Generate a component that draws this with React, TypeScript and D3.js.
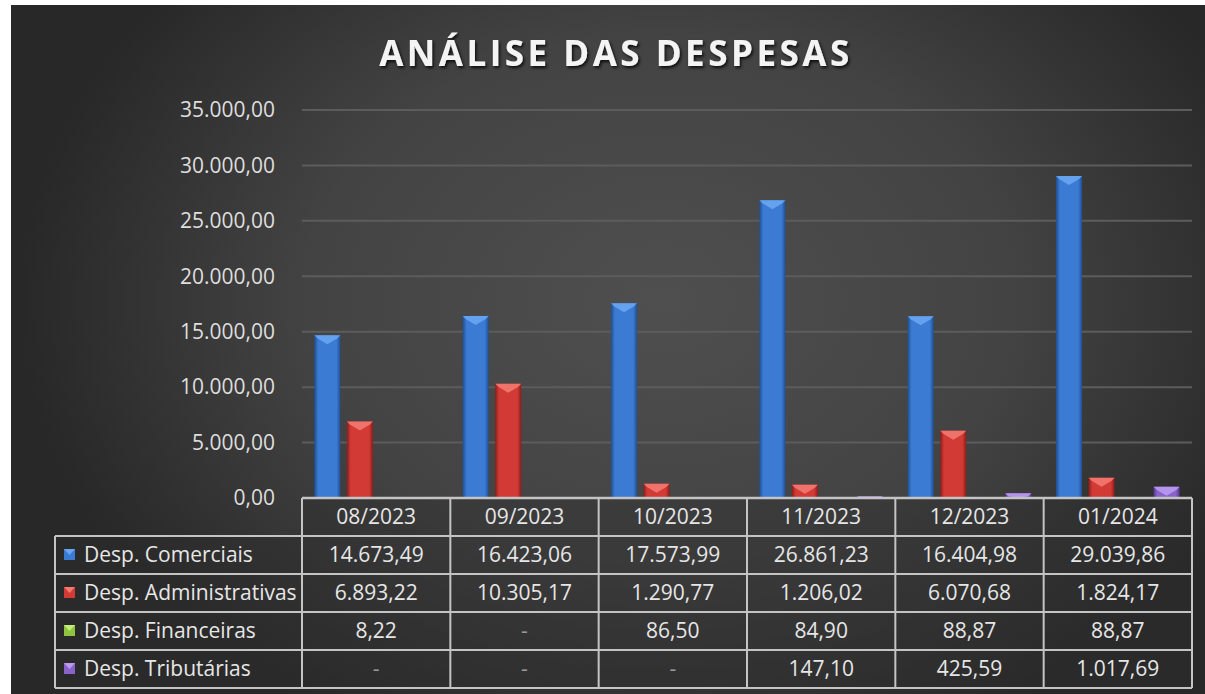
import { useEffect, useRef } from "react";
import * as d3 from "d3";

const W = 1205,
  H = 694;
const plot = { left: 302, right: 1192, top: 110, bottom: 498 };
const rowH = 38;
const legendLeft = 55;

const months = ["08/2023", "09/2023", "10/2023", "11/2023", "12/2023", "01/2024"];
const seriesNames = [
  "Desp. Comerciais",
  "Desp. Administrativas",
  "Desp. Financeiras",
  "Desp. Tributárias",
];
const comerciais = [14673.49, 16423.06, 17573.99, 26861.23, 16404.98, 29039.86];
const administrativas = [6893.22, 10305.17, 1290.77, 1206.02, 6070.68, 1824.17];
const financeiras = [8.22, null, 86.5, 84.9, 88.87, 88.87];
const tributarias = [null, null, null, 147.1, 425.59, 1017.69];
const yTicks = [0, 5000, 10000, 15000, 20000, 25000, 30000, 35000];

const seriesValues: (number | null)[][] = [comerciais, administrativas, financeiras, tributarias];
// [dark edge, mid, highlight]
const palette = [
  ["#1f4f92", "#3b7bd4", "#6aa6f0"],
  ["#8c1c1a", "#d23b35", "#f27a70"],
  ["#5b8a1e", "#8fc43f", "#c3ec7a"],
  ["#55378f", "#8a63c8", "#b99af0"],
];

const ptBR = d3.formatLocale({
  decimal: ",",
  thousands: ".",
  grouping: [3],
  currency: ["R$", ""],
});
const fmt = ptBR.format(",.2f");

function App() {
  const svgRef = useRef(null);

  const buildSVG = () => {
    const svg = d3.select(svgRef.current);
    svg.selectAll("*").remove();

    const defs = svg.append("defs");
    const bg = defs
      .append("radialGradient")
      .attr("id", "bg")
      .attr("gradientUnits", "userSpaceOnUse")
      .attr("cx", 660)
      .attr("cy", 300)
      .attr("r", 640)
      .attr("gradientTransform", "translate(660,300) scale(1,0.75) translate(-660,-300)");
    bg.append("stop").attr("offset", "0").attr("stop-color", "#4f4f4f");
    bg.append("stop").attr("offset", "0.55").attr("stop-color", "#434343");
    bg.append("stop").attr("offset", "1").attr("stop-color", "#282828");

    palette.forEach((c, i) => {
      const g = defs.append("linearGradient").attr("id", "bar" + i).attr("x1", 0).attr("x2", 1).attr("y1", 0).attr("y2", 0);
      g.append("stop").attr("offset", "0").attr("stop-color", c[0]);
      g.append("stop").attr("offset", "0.15").attr("stop-color", c[1]);
      g.append("stop").attr("offset", "0.5").attr("stop-color", c[1]);
      g.append("stop").attr("offset", "0.85").attr("stop-color", c[1]);
      g.append("stop").attr("offset", "1").attr("stop-color", c[0]);
    });

    const shadow = defs.append("filter").attr("id", "tshadow").attr("x", "-10%").attr("y", "-30%").attr("width", "120%").attr("height", "160%");
    shadow
      .append("feDropShadow")
      .attr("dx", 1.5)
      .attr("dy", 2)
      .attr("stdDeviation", 1.5)
      .attr("flood-color", "#000")
      .attr("flood-opacity", 0.8);

    svg.append("rect").attr("width", W).attr("height", H).attr("fill", "#ffffff");
    svg.append("rect").attr("x", 11).attr("y", 5).attr("width", W - 11).attr("height", H - 5).attr("fill", "url(#bg)");

    svg
      .append("text")
      .attr("x", 616)
      .attr("y", 66)
      .attr("text-anchor", "middle")
      .attr("font-family", "'Open Sans', sans-serif")
      .attr("font-weight", 700)
      .attr("font-size", 35)
      .attr("letter-spacing", 3.5)
      .attr("fill", "#f4f4f4")
      .attr("filter", "url(#tshadow)")
      .text("ANÁLISE DAS DESPESAS");

    const x = d3.scaleBand<string>().domain(months).range([plot.left, plot.right]);
    const xs = d3
      .scaleBand<number>()
      .domain(d3.range(seriesNames.length))
      .range([0, x.bandwidth()])
      .paddingInner(0.2)
      .paddingOuter(0.38);
    const y = d3.scaleLinear().domain([0, 35000]).range([plot.bottom, plot.top]);

    // grid
    svg
      .append("g")
      .selectAll("line")
      .data(yTicks.filter((t) => t > 0))
      .enter()
      .append("line")
      .attr("x1", plot.left)
      .attr("x2", plot.right)
      .attr("y1", (d) => y(d))
      .attr("y2", (d) => y(d))
      .attr("stroke", "#5c5c5c")
      .attr("stroke-width", 2);

    svg
      .append("g")
      .selectAll("text")
      .data(yTicks)
      .enter()
      .append("text")
      .attr("x", 275)
      .attr("y", (d) => y(d))
      .attr("dy", "0.35em")
      .attr("text-anchor", "end")
      .attr("font-family", "'Open Sans', sans-serif")
      .attr("font-size", 21)
      .attr("fill", "#dedede")
      .text((d) => fmt(d));

    // bars
    const bars = svg.append("g");
    seriesValues.forEach((vals, si) => {
      vals.forEach((v, mi) => {
        if (v == null) return;
        const bx = (x(months[mi]) as number) + (xs(si) as number);
        const bw = xs.bandwidth();
        const top = y(v);
        const h = plot.bottom - top;
        bars
          .append("rect")
          .attr("x", bx)
          .attr("y", top)
          .attr("width", bw)
          .attr("height", h)
          .attr("fill", `url(#bar${si})`);
        const bev = Math.min(9, h);
        bars
          .append("polygon")
          .attr(
            "points",
            [
              [bx, top],
              [bx + bw, top],
              [bx + bw - 3, top + Math.min(3, bev)],
              [bx + bw / 2, top + bev],
              [bx + 3, top + Math.min(3, bev)],
            ]
              .map((p) => p.join(","))
              .join(" ")
          )
          .attr("fill", palette[si][2])
          .attr("opacity", 0.9);
      });
    });

    // data table
    const tbl = svg.append("g");
    const line = "#c4c4c4";
    const font = "'Open Sans', sans-serif";
    const tableBottom = plot.bottom + rowH * (seriesNames.length + 1);

    tbl
      .append("rect")
      .attr("x", legendLeft)
      .attr("y", plot.bottom + rowH)
      .attr("width", plot.left - legendLeft)
      .attr("height", rowH * seriesNames.length)
      .attr("fill", "#2c2c2c")
      .attr("fill-opacity", 0.4);
    tbl
      .append("rect")
      .attr("x", plot.left)
      .attr("y", plot.bottom)
      .attr("width", plot.right - plot.left)
      .attr("height", rowH * (seriesNames.length + 1))
      .attr("fill", "#2c2c2c")
      .attr("fill-opacity", 0.4);

    // horizontal lines
    tbl
      .append("line")
      .attr("x1", plot.left)
      .attr("x2", plot.right)
      .attr("y1", plot.bottom)
      .attr("y2", plot.bottom)
      .attr("stroke", line)
      .attr("stroke-width", 2.5);
    d3.range(1, seriesNames.length + 2).forEach((r) => {
      tbl
        .append("line")
        .attr("x1", legendLeft)
        .attr("x2", plot.right)
        .attr("y1", plot.bottom + r * rowH)
        .attr("y2", plot.bottom + r * rowH)
        .attr("stroke", line)
        .attr("stroke-width", 2);
    });
    // vertical lines
    tbl
      .append("line")
      .attr("x1", legendLeft)
      .attr("x2", legendLeft)
      .attr("y1", plot.bottom + rowH)
      .attr("y2", tableBottom)
      .attr("stroke", line)
      .attr("stroke-width", 2);
    months.concat([""]).forEach((m, i) => {
      const xx = i < months.length ? (x(m) as number) : plot.right;
      tbl
        .append("line")
        .attr("x1", xx)
        .attr("x2", xx)
        .attr("y1", plot.bottom)
        .attr("y2", tableBottom)
        .attr("stroke", line)
        .attr("stroke-width", 2);
    });

    // header
    tbl
      .selectAll("text.hdr")
      .data(months)
      .enter()
      .append("text")
      .attr("class", "hdr")
      .attr("x", (d) => (x(d) as number) + x.bandwidth() / 2)
      .attr("y", plot.bottom + rowH / 2)
      .attr("dy", "0.35em")
      .attr("text-anchor", "middle")
      .attr("font-family", font)
      .attr("font-size", 21)
      .attr("fill", "#e6e6e6")
      .text((d) => d);

    seriesNames.forEach((name, si) => {
      const cy = plot.bottom + rowH * (si + 1) + rowH / 2;
      tbl
        .append("rect")
        .attr("x", 64)
        .attr("y", cy - 6)
        .attr("width", 11)
        .attr("height", 11)
        .attr("fill", palette[si][1]);
      tbl
        .append("polygon")
        .attr("points", `64,${cy - 6} 75,${cy - 6} 69.5,${cy}`)
        .attr("fill", palette[si][2]);
      tbl
        .append("text")
        .attr("x", 84)
        .attr("y", cy)
        .attr("dy", "0.35em")
        .attr("font-family", font)
        .attr("font-size", 21)
        .attr("fill", "#e6e6e6")
        .text(name);
      seriesValues[si].forEach((v, mi) => {
        tbl
          .append("text")
          .attr("x", (x(months[mi]) as number) + x.bandwidth() / 2)
          .attr("y", cy)
          .attr("dy", "0.35em")
          .attr("text-anchor", "middle")
          .attr("font-family", font)
          .attr("font-size", 21)
          .attr("fill", v == null ? "#9a9a9a" : "#e6e6e6")
          .text(v == null ? "-" : fmt(v));
      });
    });
  };

  useEffect(buildSVG, []);

  return (
    <div style={{ position: "absolute", left: 0, top: 0 }}>
      <svg ref={svgRef} width={W} height={H} style={{ display: "block" }}></svg>
    </div>
  );
}

export default App;
